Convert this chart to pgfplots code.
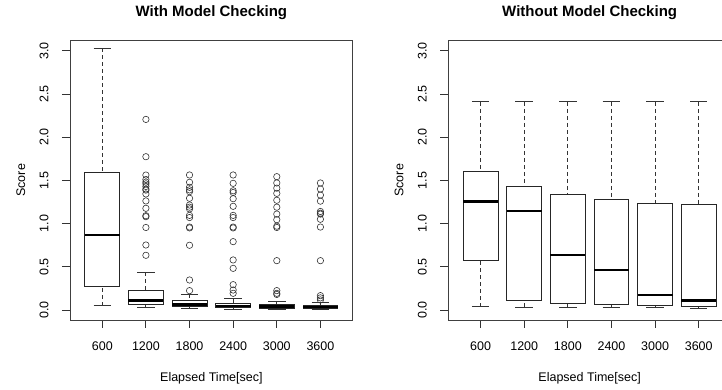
\documentclass[border=0pt]{standalone}
\usepackage{pgfplots}
\pgfplotsset{compat=1.18}
\usepgfplotslibrary{statistics}
\usepackage{fontspec}
\setmainfont{Liberation Sans}

\pgfplotsset{
  rbox/.style={
    mark=o, mark size=3.2pt,
    mark options={draw=black!80, line width=0.6pt, solid},
    boxplot/draw direction=y,
    boxplot/box extend=0.8,
    boxplot/whisker extend=0.4,
    boxplot/every box/.style={draw=black!85, line width=0.9pt, fill=none},
    boxplot/every median/.style={draw=black, line width=2.7pt},
    boxplot/every whisker/.style={draw=black!80, line width=0.9pt},
    boxplot/draw/lower whisker/.code={%
      \draw[/pgfplots/boxplot/every whisker/.try, dash pattern=on 4pt off 3pt]
        (boxplot cs:\pgfplotsboxplotvalue{lower whisker}) -- (boxplot cs:\pgfplotsboxplotvalue{lower quartile});
      \draw[/pgfplots/boxplot/every whisker/.try]
        (boxplot whisker cs:\pgfplotsboxplotvalue{lower whisker},0) -- (boxplot whisker cs:\pgfplotsboxplotvalue{lower whisker},1);
    },
    boxplot/draw/upper whisker/.code={%
      \draw[/pgfplots/boxplot/every whisker/.try, dash pattern=on 4pt off 3pt]
        (boxplot cs:\pgfplotsboxplotvalue{upper whisker}) -- (boxplot cs:\pgfplotsboxplotvalue{upper quartile});
      \draw[/pgfplots/boxplot/every whisker/.try]
        (boxplot whisker cs:\pgfplotsboxplotvalue{upper whisker},0) -- (boxplot whisker cs:\pgfplotsboxplotvalue{upper whisker},1);
    },
  },
  rpanel/.style={
    anchor=south west,
    scale only axis, width=282.7pt, height=279.3pt,
    xmin=0.26, xmax=6.74, ymin=-0.116, ymax=3.117,
    xtick={1,2,3,4,5,6}, xticklabels={600,1200,1800,2400,3000,3600},
    ytick={0,0.5,1,1.5,2,2.5,3},
    /pgf/number format/fixed, /pgf/number format/fixed zerofill,
    /pgf/number format/precision=1, /pgf/number format/assume math mode=true,
    tick pos=left, tick align=outside, major tick length=8pt,
    tick style={draw=black!80, line width=0.9pt},
    axis line style={draw=black!75, line width=0.9pt},
    tick label style={font=\fontsize{12.5}{15}\selectfont},
    xticklabel style={anchor=base, inner sep=0pt},
    yticklabel style={rotate=90, anchor=base, inner sep=0pt},
    xticklabel shift=22.7pt,
    yticklabel shift=13.7pt,
    label style={font=\fontsize{12.5}{15}\selectfont},
    xlabel style={at={(axis description cs:0.5,-0.2209)}, anchor=base},
    ylabel style={at={(axis description cs:-0.159,0.5)}, anchor=base},
    every axis title shift=0pt,
    title style={at={(axis description cs:0.5,1.0884)}, anchor=base, inner sep=0pt, font=\bfseries\fontsize{15}{18}\selectfont},
    xlabel={Elapsed Time[sec]}, ylabel={Score},
  },
}

\begin{document}
\begin{tikzpicture}[x=1pt,y=1pt]
\path[use as bounding box] (0,0) rectangle (722,390);
\clip (0,0) rectangle (722,390);

\begin{axis}[rpanel, at={(70pt,70pt)}, title={With Model Checking}]
\addplot[rbox, boxplot prepared={draw position=1, lower whisker=0.05, lower quartile=0.27, median=0.868, upper quartile=1.589, upper whisker=3.03}] coordinates {};
\addplot[rbox, boxplot prepared={draw position=2, lower whisker=0.025, lower quartile=0.062, median=0.108, upper quartile=0.224, upper whisker=0.434}]
  coordinates {(0,2.206) (0,1.774) (0,1.562) (0,1.51) (0,1.48) (0,1.46) (0,1.43) (0,1.40) (0,1.388) (0,1.343) (0,1.262) (0,1.177) (0,1.091) (0,1.08) (0,0.955) (0,0.752) (0,0.633)};
\addplot[rbox, boxplot prepared={draw position=3, lower whisker=0.012, lower quartile=0.038, median=0.062, upper quartile=0.108, upper whisker=0.185}]
  coordinates {(0,1.5625) (0,1.478) (0,1.42) (0,1.39) (0,1.37) (0,1.293) (0,1.215) (0,1.19) (0,1.17) (0,1.095) (0,1.07) (0,0.96) (0,0.95) (0,0.749) (0,0.347) (0,0.224)};
\addplot[rbox, boxplot prepared={draw position=4, lower whisker=0.01, lower quartile=0.027, median=0.047, upper quartile=0.08, upper whisker=0.131}]
  coordinates {(0,1.5625) (0,1.466) (0,1.38) (0,1.36) (0,1.288) (0,1.2) (0,1.095) (0,1.07) (0,0.96) (0,0.95) (0,0.791) (0,0.579) (0,0.482) (0,0.293) (0,0.231) (0,0.193)};
\addplot[rbox, boxplot prepared={draw position=5, lower whisker=0.01, lower quartile=0.022, median=0.04, upper quartile=0.065, upper whisker=0.104}]
  coordinates {(0,1.543) (0,1.47) (0,1.41) (0,1.35) (0,1.27) (0,1.19) (0,1.11) (0,1.045) (0,0.97) (0,0.955) (0,0.571) (0,0.224) (0,0.193) (0,0.18)};
\addplot[rbox, boxplot prepared={draw position=6, lower whisker=0.01, lower quartile=0.02, median=0.035, upper quartile=0.05, upper whisker=0.089}]
  coordinates {(0,1.47) (0,1.40) (0,1.33) (0,1.26) (0,1.14) (0,1.12) (0,1.11) (0,1.05) (0,0.96) (0,0.571) (0,0.166) (0,0.14) (0,0.116)};
\end{axis}

\begin{axis}[rpanel, at={(448.3pt,70pt)}, title={Without Model Checking}]
\addplot[rbox, boxplot prepared={draw position=1, lower whisker=0.039, lower quartile=0.578, median=1.257, upper quartile=1.604, upper whisker=2.41}] coordinates {};
\addplot[rbox, boxplot prepared={draw position=2, lower whisker=0.031, lower quartile=0.108, median=1.145, upper quartile=1.427, upper whisker=2.41}] coordinates {};
\addplot[rbox, boxplot prepared={draw position=3, lower whisker=0.027, lower quartile=0.077, median=0.636, upper quartile=1.342, upper whisker=2.41}] coordinates {};
\addplot[rbox, boxplot prepared={draw position=4, lower whisker=0.027, lower quartile=0.066, median=0.463, upper quartile=1.28, upper whisker=2.41}] coordinates {};
\addplot[rbox, boxplot prepared={draw position=5, lower whisker=0.027, lower quartile=0.058, median=0.174, upper quartile=1.234, upper whisker=2.41}] coordinates {};
\addplot[rbox, boxplot prepared={draw position=6, lower whisker=0.023, lower quartile=0.046, median=0.112, upper quartile=1.226, upper whisker=2.41}] coordinates {};
\end{axis}
\end{tikzpicture}
\end{document}
